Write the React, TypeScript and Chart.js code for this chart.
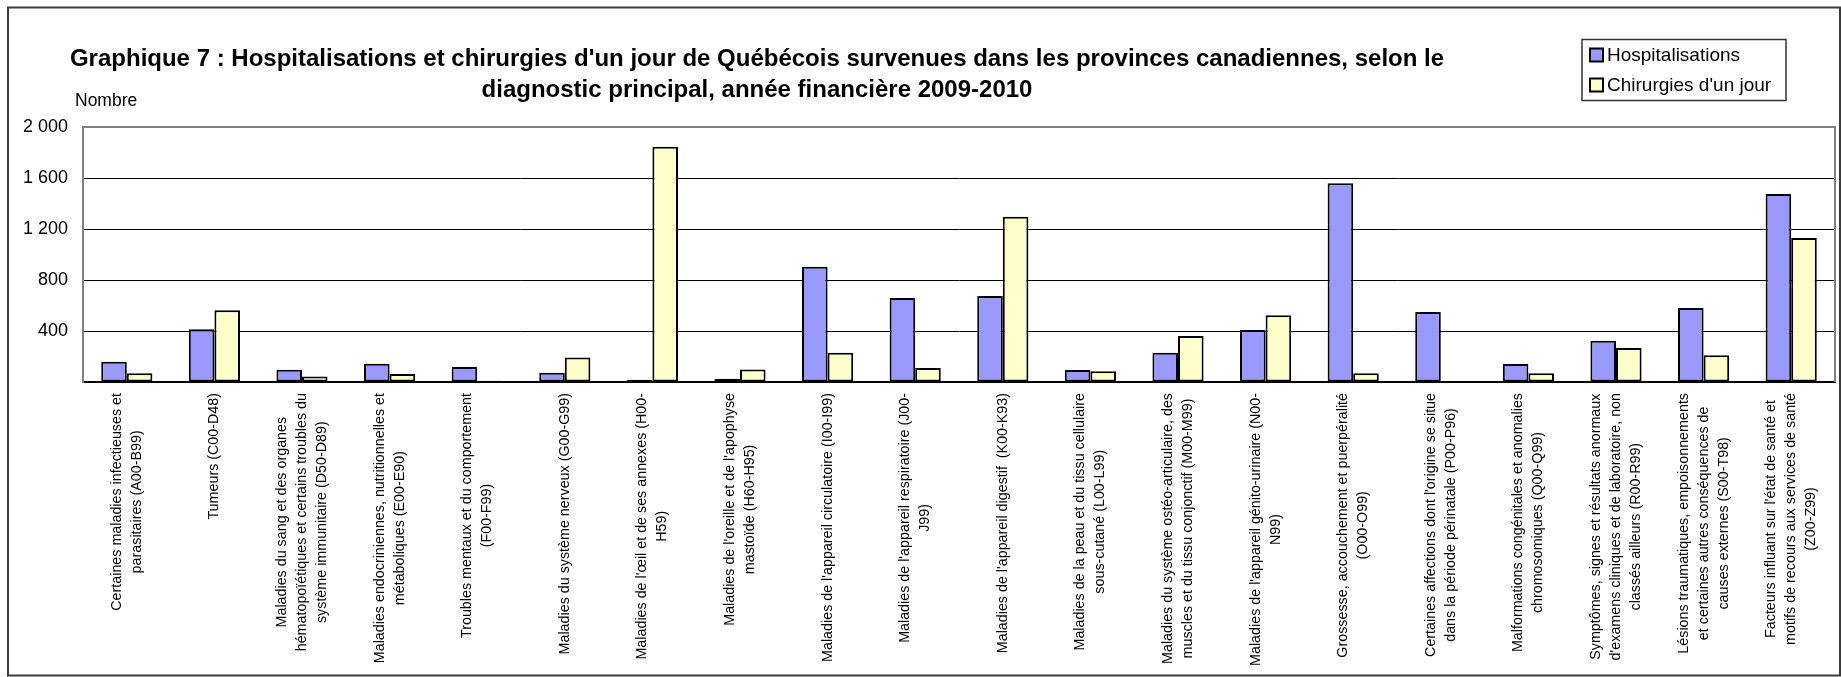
import React, { useEffect, useRef } from "react";
import { Chart, registerables } from "chart.js";

Chart.register(...registerables);

const categories: string[][] = [
  ["Certaines maladies infectieuses et", "parasitaires (A00-B99)"],
  ["Tumeurs (C00-D48)"],
  ["Maladies du sang et des organes", "hématopoïétiques et certains troubles du", "système immunitaire (D50-D89)"],
  ["Maladies endocriniennes, nutritionnelles et", "métaboliques (E00-E90)"],
  ["Troubles mentaux et du comportement", "(F00-F99)"],
  ["Maladies du système nerveux (G00-G99)"],
  ["Maladies de l'œil et de ses annexes (H00-", "H59)"],
  ["Maladies de l'oreille et de l'apophyse", "mastoïde (H60-H95)"],
  ["Maladies de l'appareil circulatoire (I00-I99)"],
  ["Maladies de l'appareil respiratoire (J00-", "J99)"],
  ["Maladies de l'appareil digestif  (K00-K93)"],
  ["Maladies de la peau et du tissu cellulaire", "sous-cutané (L00-L99)"],
  ["Maladies du système ostéo-articulaire, des", "muscles et du tissu conjonctif (M00-M99)"],
  ["Maladies de l'appareil génito-urinaire (N00-", "N99)"],
  ["Grossesse, accouchement et puerpéralité", "(O00-O99)"],
  ["Certaines affections dont l'origine se situe", "dans la période périnatale (P00-P96)"],
  ["Malformations congénitales et anomalies", "chromosomiques (Q00-Q99)"],
  ["Symptômes, signes et résultats anormaux", "d'examens cliniques et de laboratoire, non", "classés ailleurs (R00-R99)"],
  ["Lésions traumatiques, empoisonnements", "et certaines autres conséquences de", "causes externes (S00-T98)"],
  ["Facteurs influant sur l'état de santé et", "motifs de recours aux services de santé", "(Z00-Z99)"],
];

const hospitalisations = [159, 413, 97, 144, 118, 73, 18, 26, 904, 659, 674, 94, 230, 408, 1558, 549, 141, 324, 580, 1474];
const chirurgies = [68, 562, 44, 63, 10, 193, 1845, 99, 230, 110, 1297, 84, 361, 523, 68, 0, 68, 267, 209, 1129];

const seriesNames = ["Hospitalisations", "Chirurgies d'un jour"];
const seriesColors = ["#9999FF", "#FFFFCC"];
const yTickLabels = ["", "400", "800", "1 200", "1 600", "2 000"];
const titleLines = [
  "Graphique 7 : Hospitalisations et chirurgies d'un jour de Québécois survenues dans les provinces canadiennes, selon le",
  "diagnostic principal, année financière 2009-2010",
];
const yAxisTitle = "Nombre";

const FONT = '"Liberation Sans", Arial, Helvetica, sans-serif';

const decorPlugin = {
  id: "decor",
  beforeDraw(chart: any) {
    const ctx = chart.ctx;
    ctx.save();
    ctx.fillStyle = "#ffffff";
    ctx.fillRect(0, 0, chart.width, chart.height);
    ctx.restore();
  },
  afterDraw(chart: any) {
    const ctx = chart.ctx;
    const area = chart.chartArea;
    const xs = chart.scales.x;
    ctx.save();

    // plot area top / right border
    ctx.strokeStyle = "#808080";
    ctx.lineWidth = 2;
    ctx.beginPath();
    ctx.moveTo(area.left, area.top);
    ctx.lineTo(area.right, area.top);
    ctx.lineTo(area.right, area.bottom);
    ctx.stroke();

    // outer frame
    ctx.strokeStyle = "#3a3a3a";
    ctx.lineWidth = 2;
    ctx.strokeRect(8, 7.5, 1832, 668);

    // title
    ctx.fillStyle = "#000";
    ctx.font = `bold 24px ${FONT}`;
    ctx.textAlign = "center";
    ctx.textBaseline = "alphabetic";
    ctx.fillText(titleLines[0], 757, 66);
    ctx.fillText(titleLines[1], 757, 97);

    // y axis title
    ctx.font = `17.5px ${FONT}`;
    ctx.textAlign = "left";
    ctx.fillText(yAxisTitle, 75, 106);

    // legend
    ctx.strokeStyle = "#333";
    ctx.lineWidth = 1.5;
    ctx.strokeRect(1582, 39.5, 204, 61);
    ctx.font = `19px ${FONT}`;
    ctx.textBaseline = "middle";
    chart.data.datasets.forEach((ds: any, i: number) => {
      const cy = 55 + i * 30;
      ctx.fillStyle = ds.backgroundColor;
      ctx.fillRect(1590, cy - 6.5, 13, 13);
      ctx.strokeStyle = "#000";
      ctx.lineWidth = 2;
      ctx.strokeRect(1590, cy - 6.5, 13, 13);
      ctx.fillStyle = "#000";
      ctx.fillText(ds.label, 1607, cy + 1);
    });

    // category labels (rotated, centered lines)
    ctx.font = `14.3px ${FONT}`;
    ctx.fillStyle = "#000";
    ctx.textAlign = "center";
    ctx.textBaseline = "middle";
    const labels = chart.data.labels as string[][];
    labels.forEach((lines: string[], i: number) => {
      const cx = xs.getPixelForValue(i);
      let maxW = 0;
      lines.forEach((l) => {
        maxW = Math.max(maxW, ctx.measureText(l).width);
      });
      const n = lines.length;
      lines.forEach((l, j) => {
        const ox = cx + (j - (n - 1) / 2) * 20;
        ctx.save();
        ctx.translate(ox, area.bottom + 11 + maxW / 2);
        ctx.rotate(-Math.PI / 2);
        ctx.fillText(l, 0, 0);
        ctx.restore();
      });
    });

    ctx.restore();
  },
};

export default function App() {
  const canvasRef = useRef<HTMLCanvasElement | null>(null);

  useEffect(() => {
    const canvas = canvasRef.current;
    if (!canvas) return;
    const chart = new Chart(canvas, {
      type: "bar",
      data: {
        labels: categories as any,
        datasets: [
          {
            label: seriesNames[0],
            data: hospitalisations,
            backgroundColor: seriesColors[0],
            borderColor: "#000",
            borderWidth: 2,
            borderSkipped: false,
            categoryPercentage: 0.584,
            barPercentage: 1,
          },
          {
            label: seriesNames[1],
            data: chirurgies,
            backgroundColor: seriesColors[1],
            borderColor: "#000",
            borderWidth: 2,
            borderSkipped: false,
            categoryPercentage: 0.584,
            barPercentage: 1,
          },
        ],
      },
      options: {
        responsive: false,
        animation: false,
        devicePixelRatio: 1,
        layout: { padding: { top: 127, right: 6, bottom: 295, left: 0 } },
        plugins: {
          legend: { display: false },
          title: { display: false },
          tooltip: { enabled: false },
        },
        scales: {
          x: {
            grid: { display: false },
            border: { display: true, color: "#000", width: 2 },
            ticks: { display: false },
            afterFit: (s: any) => {
              s.height = 0;
            },
          },
          y: {
            min: 0,
            max: 2000,
            ticks: {
              stepSize: 400,
              padding: 15,
              color: "#000",
              font: { family: FONT, size: 18 },
              callback: (_v: any, i: number) => yTickLabels[i],
            },
            grid: { color: "#000", lineWidth: 1, drawTicks: false },
            border: { display: true, color: "#808080", width: 2 },
            afterFit: (s: any) => {
              s.width = 83;
            },
          },
        },
      },
      plugins: [decorPlugin],
    });
    return () => chart.destroy();
  }, []);

  return (
    <div style={{ position: "fixed", left: 0, top: 0, width: 1841, height: 677, background: "#fff" }}>
      <canvas ref={canvasRef} width={1841} height={677} style={{ display: "block" }} />
    </div>
  );
}
